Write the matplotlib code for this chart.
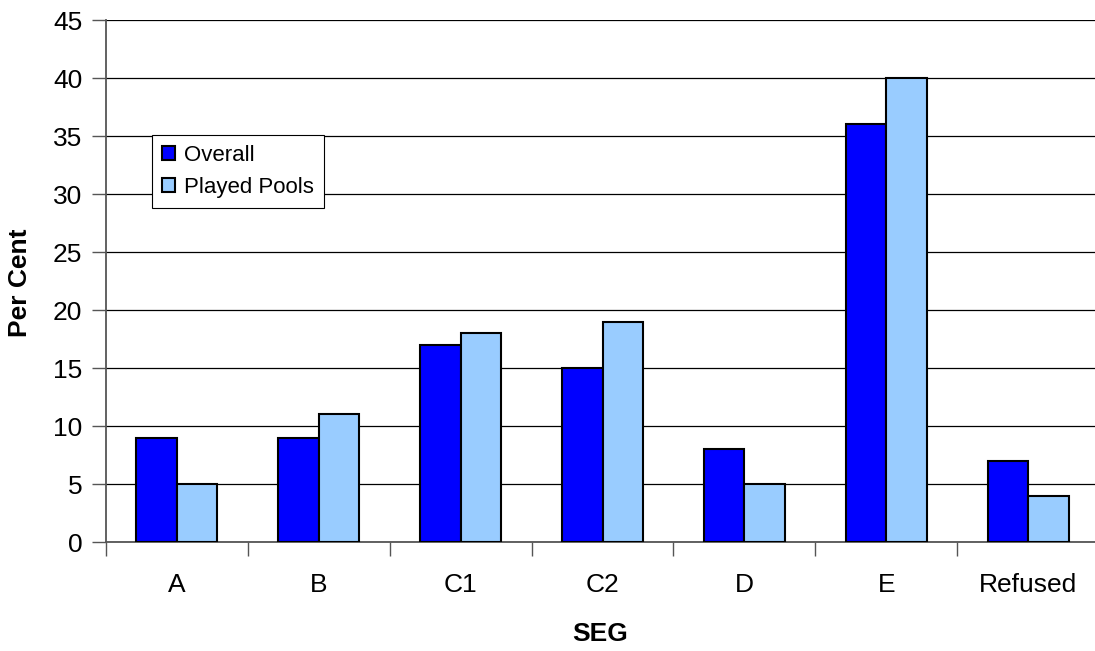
import matplotlib
matplotlib.use('Agg')
import matplotlib.pyplot as plt
import numpy as np

plt.rcParams['font.family'] = ['Liberation Sans', 'DejaVu Sans']

# ---------------------------------------------------------------------------
# Data
# ---------------------------------------------------------------------------
categories = ['A', 'B', 'C1', 'C2', 'D', 'E', 'Refused']
overall = [9, 9, 17, 15, 8, 36, 7]
played_pools = [5, 11, 18, 19, 5, 40, 4]
y_ticks = [0, 5, 10, 15, 20, 25, 30, 35, 40, 45]

W, H = 1095, 651
fig = plt.figure(figsize=(W / 100, H / 100), dpi=100)
# axes in pixel coords: left 106, right 1099, top 20, bottom 542
ax = fig.add_axes([106 / W, (H - 542) / H, 993 / W, 522 / H])

x = np.arange(len(categories))
bw = 1 / 3.5
ax.bar(x - bw / 2, overall, bw, color='#0000FF', edgecolor='black',
       linewidth=1.5, label='Overall', zorder=3)
ax.bar(x + bw / 2, played_pools, bw, color='#99CCFF', edgecolor='black',
       linewidth=1.5, label='Played Pools', zorder=3)

ax.set_xlim(-0.5, len(categories) - 0.5)
ax.set_ylim(0, 45)
ax.set_yticks(y_ticks)
ax.yaxis.grid(True, color='black', linewidth=0.9, zorder=0)
ax.set_axisbelow(True)

# category labels centred, tick marks between categories
ax.set_xticks(np.arange(len(categories) + 1) - 0.5)
ax.set_xticklabels([])
ax.set_xticks(x, minor=True)
ax.set_xticklabels(categories, minor=True)
ax.tick_params(axis='x', which='minor', length=0, pad=22, labelsize=19)
ax.tick_params(axis='x', which='major', length=10, width=1, color='#555555',
               direction='out')
ax.tick_params(axis='y', length=10, width=1, color='#555555', pad=7,
               labelsize=19)

for side in ['top', 'right']:
    ax.spines[side].set_visible(False)
for side in ['left', 'bottom']:
    ax.spines[side].set_color('#555555')
    ax.spines[side].set_linewidth(1.3)

fig.text(20 / W, 1 - 283 / H, 'Per Cent', rotation=90, ha='center',
         va='center', fontsize=19, fontweight='bold')
fig.text(600 / W, 1 - 634 / H, 'SEG', ha='center', va='center',
         fontsize=19, fontweight='bold')

leg = ax.legend(loc='upper left', bbox_to_anchor=(152 / W, 1 - 135 / H),
                bbox_transform=fig.transFigure, fontsize=16, frameon=True,
                fancybox=False, framealpha=1, edgecolor='black',
                handlelength=0.6, handleheight=0.6, handletextpad=0.4,
                borderpad=0.45, labelspacing=0.5, borderaxespad=0)
leg.get_frame().set_linewidth(0.8)

fig.savefig('out.png', dpi=100)
